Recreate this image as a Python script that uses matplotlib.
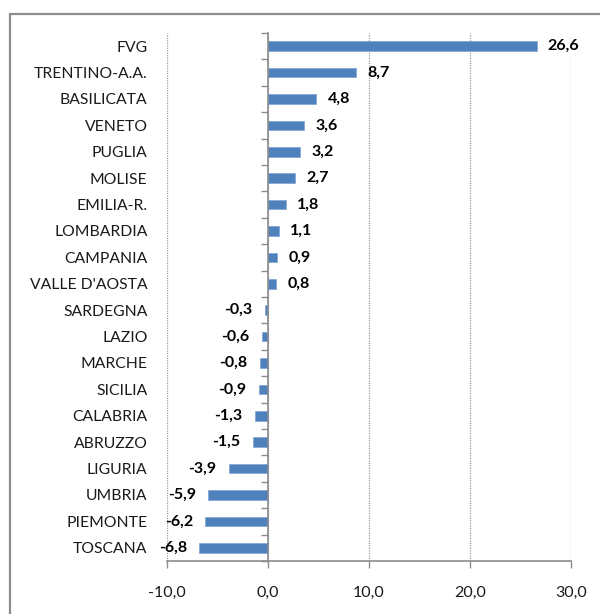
import matplotlib
matplotlib.use("Agg")
import matplotlib.pyplot as plt
from matplotlib.patches import Rectangle
from matplotlib.ticker import FixedLocator, FuncFormatter

regions = ["FVG", "TRENTINO-A.A.", "BASILICATA", "VENETO", "PUGLIA", "MOLISE",
           "EMILIA-R.", "LOMBARDIA", "CAMPANIA", "VALLE D'AOSTA", "SARDEGNA",
           "LAZIO", "MARCHE", "SICILIA", "CALABRIA", "ABRUZZO", "LIGURIA",
           "UMBRIA", "PIEMONTE", "TOSCANA"]
values = [26.6, 8.7, 4.8, 3.6, 3.2, 2.7, 1.8, 1.1, 0.9, 0.8, -0.3, -0.6,
          -0.8, -0.9, -1.3, -1.5, -3.9, -5.9, -6.2, -6.8]
xticks = [-10, 0, 10, 20, 30]

FONT = "Lato"
plt.rcParams['font.family'] = [FONT, 'DejaVu Sans']

fig = plt.figure(figsize=(6.0, 6.14), dpi=100)
fig.patch.set_facecolor("white")
# outer chart frame
fig.patches.append(Rectangle((10/600, -0.1), 1.2, 1 - 13.5/614 + 0.1,
                             transform=fig.transFigure, fill=False,
                             edgecolor="#8c8c8c", linewidth=1.6))

ax = fig.add_axes([167/600, 1 - 561/614, (571-167)/600, (561-33)/614])
y = list(range(len(regions)))
ax.barh(y, values, height=0.36, color="#4F81BD", edgecolor="#7ea3d3",
        linewidth=0.5, zorder=3)
ax.set_ylim(len(regions) - 0.5, -0.5)
ax.set_xlim(xticks[0], xticks[-1])

ax.set_yticks(y)
ax.set_yticklabels(regions, fontsize=11.3, color="#1a1a1a")
ax.tick_params(axis="y", length=0, pad=14)

ax.xaxis.set_major_locator(FixedLocator(xticks))
ax.xaxis.set_major_formatter(FuncFormatter(lambda v, p: f"{v:.1f}".replace(".", ",")))
ax.tick_params(axis="x", length=5, width=1, color="#8c8c8c", pad=13,
               labelsize=11.5, labelcolor="#1a1a1a")
ax.grid(axis="x", linestyle=(0, (1, 1)), color="#9a9a9a", linewidth=0.9, zorder=0)
for s in ["left", "right", "top"]:
    ax.spines[s].set_visible(False)
ax.spines["bottom"].set_color("#8c8c8c")
ax.spines["bottom"].set_linewidth(1.2)

# zero axis with category boundary ticks
ax2 = ax.twinx()
ax2.set_ylim(ax.get_ylim())
for s in ["right", "top", "bottom"]:
    ax2.spines[s].set_visible(False)
ax2.spines["left"].set_position(("data", 0))
ax2.spines["left"].set_color("#8c8c8c")
ax2.spines["left"].set_linewidth(1.2)
ax2.spines["left"].set_zorder(4)
ax2.yaxis.set_ticks_position("left")
ax2.set_yticks([i - 0.5 for i in range(len(regions) + 1)])
ax2.set_yticklabels([])
ax2.tick_params(axis="y", length=5, width=1, color="#8c8c8c", direction="out")

for yi, v in zip(y, values):
    txt = f"{v:.1f}".replace(".", ",")
    if v >= 0:
        ax.annotate(txt, (v, yi), xytext=(8, 0), textcoords="offset points",
                    ha="left", va="center", fontsize=11.5, fontweight="bold")
    else:
        ax.annotate(txt, (v, yi), xytext=(-9, 0), textcoords="offset points",
                    ha="right", va="center", fontsize=11.5, fontweight="bold")

fig.savefig("out.png", dpi=100, facecolor="white")
